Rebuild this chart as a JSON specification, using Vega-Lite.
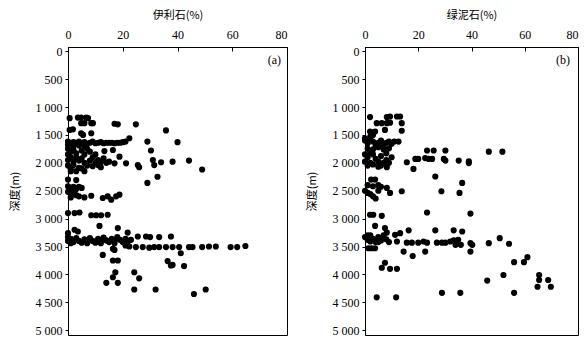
{
  "$schema": "https://vega.github.io/schema/vega-lite/v6.json",
  "padding": {"left": 8, "top": 8, "right": 4, "bottom": 5},
  "spacing": 17,
  "config": {
    "view": {"stroke": "black", "strokeWidth": 1},
    "axis": {
      "grid": false,
      "domainColor": "black",
      "tickColor": "black",
      "labelColor": "black",
      "titleColor": "black",
      "labelFont": "Liberation Serif",
      "labelFontSize": 12,
      "labelOverlap": false,
      "titleFont": "Noto Sans CJK SC",
      "titleFontSize": 11,
      "titleFontWeight": "normal"
    }
  },
  "datasets": {
    "illite": [
      {"v":0.6,"d":1200},{"v":3.6,"d":1190},{"v":4.8,"d":1190},{"v":6.7,"d":1190},{"v":7.3,"d":1200},
      {"v":4.8,"d":1290},{"v":6,"d":1290},{"v":8.5,"d":1290},{"v":9.1,"d":1290},{"v":17,"d":1300},{"v":18.2,"d":1310},{"v":24.8,"d":1310},
      {"v":0.6,"d":1410},{"v":1.8,"d":1400},{"v":4.8,"d":1470},{"v":5.5,"d":1500},{"v":8.5,"d":1470},{"v":35.8,"d":1420},{"v":22.4,"d":1560},
      {"v":0,"d":1620},{"v":1,"d":1650},{"v":2,"d":1630},{"v":3,"d":1660},{"v":4,"d":1620},{"v":5,"d":1650},{"v":6,"d":1630},{"v":7,"d":1660},{"v":8,"d":1640},{"v":9,"d":1620},{"v":10,"d":1650},{"v":11,"d":1640},{"v":12,"d":1630},{"v":13,"d":1650},{"v":14,"d":1640},{"v":15,"d":1640},{"v":16,"d":1640},{"v":17,"d":1650},{"v":18,"d":1640},{"v":19,"d":1640},{"v":20,"d":1630},{"v":21,"d":1620},
      {"v":0,"d":1680},{"v":2,"d":1700},{"v":4,"d":1690},{"v":6,"d":1700},
      {"v":29,"d":1620},{"v":40,"d":1630},{"v":30.3,"d":1780},{"v":13.3,"d":1790},{"v":16.4,"d":1770},
      {"v":0,"d":1750},{"v":1,"d":1800},{"v":0,"d":1850},{"v":2,"d":1770},{"v":3,"d":1830},{"v":1,"d":1900},{"v":0,"d":1950},{"v":2,"d":1980},{"v":0,"d":2050},{"v":1,"d":2100},{"v":3,"d":1900},{"v":4,"d":1960},{"v":2,"d":2040},{"v":4,"d":2090},{"v":5,"d":1780},{"v":6,"d":1850},{"v":5,"d":1920},{"v":6,"d":2000},{"v":7,"d":2050},{"v":5,"d":2100},{"v":8,"d":1800},{"v":9,"d":1900},{"v":8,"d":1960},{"v":10,"d":2000},{"v":9,"d":2060},{"v":7,"d":1750},{"v":11,"d":1950},{"v":12,"d":1990},{"v":13,"d":1920},{"v":14,"d":2000},{"v":11,"d":2040},{"v":12,"d":2080},{"v":3,"d":2150},{"v":1,"d":2150},{"v":6,"d":2150},{"v":10,"d":1850},{"v":15,"d":1980},{"v":17,"d":2010},{"v":18.8,"d":1890},
      {"v":21.2,"d":2010},{"v":25.5,"d":2040},{"v":26,"d":2080},{"v":31,"d":1950},{"v":31.5,"d":2040},{"v":34,"d":1990},{"v":38.2,"d":1980},{"v":44.2,"d":1960},{"v":49,"d":2120},
      {"v":0,"d":2300},{"v":3,"d":2310},{"v":32.7,"d":2250},{"v":29,"d":2360},
      {"v":0,"d":2420},{"v":1,"d":2450},{"v":2,"d":2430},{"v":3,"d":2470},{"v":4,"d":2430},{"v":5,"d":2450},{"v":0,"d":2520},{"v":1,"d":2560},{"v":2,"d":2540},{"v":3,"d":2580},{"v":4,"d":2600},{"v":6,"d":2620},{"v":1,"d":2620},{"v":8.5,"d":2590},{"v":12.7,"d":2630},{"v":14.5,"d":2600},{"v":15.8,"d":2660},{"v":17.6,"d":2600},{"v":18.8,"d":2570},
      {"v":0,"d":2900},{"v":2.4,"d":2900},{"v":4.2,"d":2890},{"v":8.5,"d":2940},{"v":10.3,"d":2940},{"v":12.1,"d":2940},{"v":14.5,"d":2930},
      {"v":11.5,"d":3130},{"v":2.4,"d":3200},{"v":3.6,"d":3230},{"v":18.2,"d":3170},{"v":0,"d":3260},{"v":21.8,"d":3250},
      {"v":0,"d":3330},{"v":0,"d":3400},{"v":1,"d":3360},{"v":2,"d":3420},{"v":3,"d":3350},{"v":4,"d":3400},{"v":5,"d":3430},{"v":6,"d":3370},{"v":7,"d":3410},{"v":8,"d":3350},{"v":9,"d":3400},{"v":10,"d":3430},{"v":11,"d":3360},{"v":12,"d":3400},{"v":13,"d":3340},{"v":14,"d":3390},{"v":15,"d":3420},{"v":16,"d":3360},{"v":17,"d":3400},{"v":18,"d":3330},{"v":19,"d":3380},{"v":20,"d":3420},{"v":21,"d":3360},{"v":22,"d":3400},{"v":23,"d":3380},{"v":1,"d":3440},{"v":7,"d":3440},{"v":12,"d":3440},{"v":17,"d":3440},
      {"v":25.5,"d":3320},{"v":28.5,"d":3320},{"v":30,"d":3330},{"v":33.3,"d":3330},{"v":37.6,"d":3320},
      {"v":21,"d":3480},{"v":22.4,"d":3500},{"v":24.8,"d":3510},{"v":27.3,"d":3510},{"v":29.7,"d":3520},{"v":31.5,"d":3510},{"v":33.3,"d":3510},{"v":35.8,"d":3510},{"v":38.2,"d":3510},{"v":40.6,"d":3510},{"v":44.2,"d":3510},{"v":45.5,"d":3510},{"v":49,"d":3510},{"v":51.5,"d":3500},{"v":54,"d":3500},{"v":59.4,"d":3510},{"v":61.8,"d":3510},{"v":64.8,"d":3490},
      {"v":12.7,"d":3650},{"v":16.4,"d":3540},{"v":17,"d":3560},{"v":16.4,"d":3750},{"v":18.2,"d":3750},{"v":41.2,"d":3620},{"v":36.4,"d":3760},{"v":37.6,"d":3840},{"v":38.2,"d":3830},{"v":42.4,"d":3850},{"v":17.3,"d":3960},{"v":16.4,"d":4050},{"v":14,"d":4150},{"v":18.2,"d":4150},{"v":24.2,"d":3960},{"v":26,"d":4070},{"v":24.2,"d":4270},{"v":32,"d":4270},{"v":46,"d":4350},{"v":50.3,"d":4270}
    ],
    "chlorite": [
      {"v":1.9,"d":1180},{"v":8.2,"d":1180},{"v":9.4,"d":1170},{"v":12,"d":1170},{"v":13.2,"d":1170},
      {"v":4.4,"d":1290},{"v":6.3,"d":1290},{"v":8.2,"d":1290},{"v":9.4,"d":1280},{"v":13.8,"d":1290},
      {"v":1.9,"d":1440},{"v":2.5,"d":1460},{"v":3.8,"d":1440},{"v":7.5,"d":1410},{"v":13.8,"d":1425},
      {"v":0,"d":1560},
      {"v":0,"d":1600},{"v":1,"d":1650},{"v":2,"d":1580},{"v":3,"d":1620},{"v":4,"d":1700},{"v":5,"d":1640},{"v":6,"d":1600},{"v":7,"d":1680},{"v":8,"d":1640},{"v":9,"d":1620},{"v":10,"d":1660},{"v":11,"d":1620},{"v":12.6,"d":1620},{"v":1,"d":1750},{"v":3,"d":1760},{"v":5,"d":1720},{"v":7,"d":1760},{"v":9,"d":1740},{"v":2,"d":1530},{"v":3,"d":1500},
      {"v":0,"d":1850},{"v":1,"d":1900},{"v":0,"d":1980},{"v":2,"d":2000},{"v":1,"d":2050},{"v":3,"d":1850},{"v":4,"d":1930},{"v":3,"d":2030},{"v":5,"d":1980},{"v":6,"d":1880},{"v":7,"d":2000},{"v":6,"d":2050},{"v":8,"d":1950},{"v":9,"d":2000},{"v":10,"d":1900},{"v":5,"d":2070},{"v":2,"d":1820},{"v":8,"d":1830},
      {"v":8.2,"d":2080},{"v":15.7,"d":1990},{"v":18.2,"d":2110},{"v":18.9,"d":1930},{"v":20,"d":1930},{"v":22.6,"d":1915},{"v":23.3,"d":1780},{"v":25.8,"d":1780},{"v":23.9,"d":1930},{"v":25.2,"d":1930},{"v":30.2,"d":1780},{"v":29.6,"d":1930},{"v":30.2,"d":1960},{"v":35.2,"d":1960},{"v":39,"d":1975},{"v":39,"d":2005},{"v":46.5,"d":1800},{"v":51.6,"d":1800},
      {"v":26.4,"d":2245},{"v":36.5,"d":2360},
      {"v":2.3,"d":2300},{"v":3.8,"d":2300},{"v":1,"d":2400},{"v":3,"d":2420},{"v":5,"d":2400},{"v":0,"d":2500},{"v":1,"d":2540},{"v":2,"d":2560},{"v":3,"d":2600},{"v":4,"d":2640},{"v":5,"d":2500},{"v":8.2,"d":2450},{"v":9.4,"d":2540},{"v":13.8,"d":2510},{"v":28.7,"d":2510},{"v":35.5,"d":2540},{"v":6,"d":2430},
      {"v":1.9,"d":2930},{"v":3.1,"d":2930},{"v":6.3,"d":2950},{"v":23.3,"d":2890},{"v":39.6,"d":2910},
      {"v":3.8,"d":3130},{"v":7.5,"d":3170},{"v":8.2,"d":3250},{"v":16.4,"d":3210},{"v":26.4,"d":3210},{"v":33.3,"d":3210},{"v":36.5,"d":3230},
      {"v":0,"d":3330},{"v":1,"d":3380},{"v":2,"d":3300},{"v":3,"d":3360},{"v":4,"d":3420},{"v":5,"d":3330},{"v":6,"d":3390},{"v":7,"d":3300},{"v":8,"d":3370},{"v":9,"d":3420},{"v":2,"d":3410},{"v":5,"d":3420},{"v":1,"d":3300},
      {"v":11.3,"d":3290},{"v":13.2,"d":3260},{"v":12,"d":3410},{"v":15.7,"d":3430},{"v":17.6,"d":3430},{"v":20,"d":3430},{"v":22,"d":3410},{"v":23.3,"d":3430},{"v":27,"d":3430},{"v":28.9,"d":3430},{"v":30.2,"d":3430},{"v":32,"d":3410},{"v":33.3,"d":3390},{"v":35,"d":3380},{"v":34,"d":3470},{"v":36,"d":3470},{"v":39.6,"d":3440},{"v":40.3,"d":3470},{"v":46.5,"d":3440},{"v":50.6,"d":3350},{"v":54.1,"d":3450},
      {"v":1.3,"d":3530},{"v":2.5,"d":3530},{"v":3.8,"d":3530},{"v":14.5,"d":3590},{"v":17.9,"d":3670},{"v":22.6,"d":3590},{"v":39.6,"d":3590},
      {"v":7.5,"d":3790},{"v":6.3,"d":3880},{"v":9.4,"d":3900},{"v":12,"d":3900},{"v":56,"d":3780},{"v":59.7,"d":3780},{"v":61,"d":3690},{"v":45.9,"d":4110},{"v":52,"d":4010},{"v":56,"d":4330},{"v":65.4,"d":4010},{"v":65.4,"d":4100},{"v":64.8,"d":4220},{"v":68.8,"d":4100},{"v":69.8,"d":4220},{"v":28.9,"d":4330},{"v":35.8,"d":4330},{"v":4.4,"d":4410},{"v":11.7,"d":4410}
    ],
    "tag_a": [{"t":"(a)","v":77.8,"d":150}],
    "tag_b": [{"t":"(b)","v":77,"d":150}]
  },
  "hconcat": [
    {
      "width": 219,
      "height": 288,
      "layer": [
        {
          "data": {"name": "illite"},
          "mark": {"type": "circle", "size": 38, "color": "black", "opacity": 1},
          "encoding": {
            "x": {"field": "v", "type": "quantitative", "scale": {"domain": [0, 80], "nice": false, "zero": false},
              "axis": {"orient": "top", "title": "伊利石(%)", "tickCount": 4, "tickSize": -4, "labelPadding": 10, "titlePadding": 8,
                "labelFont": "Liberation Serif", "labelFontSize": 12,
                "labelAlign": {"condition": {"test": "datum.value == 80", "value": "right"}, "value": "center"}}},
            "y": {"field": "d", "type": "quantitative", "scale": {"domain": [-75, 5085], "reverse": true, "nice": false, "zero": false},
              "axis": {"orient": "left", "title": "深度(m)", "tickCount": 11, "tickSize": 3, "labelPadding": 3, "titlePadding": 15,
                "labelFont": "Liberation Serif", "labelFontSize": 12, "labelOverlap": false,
                "labelExpr": "datum.value >= 1000 ? replace(format(datum.value, ','), ',', ' ') : format(datum.value, 'd')"}}
          }
        },
        {
          "data": {"name": "tag_a"},
          "mark": {"type": "text", "align": "right", "baseline": "middle", "font": "Liberation Serif", "fontSize": 12, "color": "black"},
          "encoding": {
            "x": {"field": "v", "type": "quantitative"},
            "y": {"field": "d", "type": "quantitative"},
            "text": {"field": "t"}
          }
        }
      ]
    },
    {
      "width": 213,
      "height": 288,
      "layer": [
        {
          "data": {"name": "chlorite"},
          "mark": {"type": "circle", "size": 38, "color": "black", "opacity": 1},
          "encoding": {
            "x": {"field": "v", "type": "quantitative", "scale": {"domain": [0, 80], "nice": false, "zero": false},
              "axis": {"orient": "top", "title": "绿泥石(%)", "tickCount": 4, "tickSize": -4, "labelPadding": 10, "titlePadding": 8,
                "labelFont": "Liberation Serif", "labelFontSize": 12,
                "labelAlign": {"condition": {"test": "datum.value == 80", "value": "right"}, "value": "center"}}},
            "y": {"field": "d", "type": "quantitative", "scale": {"domain": [-75, 5085], "reverse": true, "nice": false, "zero": false},
              "axis": {"orient": "left", "title": "深度(m)", "tickCount": 11, "tickSize": 3, "labelPadding": 3, "titlePadding": 15,
                "labelFont": "Liberation Serif", "labelFontSize": 12, "labelOverlap": false,
                "labelExpr": "datum.value >= 1000 ? replace(format(datum.value, ','), ',', ' ') : format(datum.value, 'd')"}}
          }
        },
        {
          "data": {"name": "tag_b"},
          "mark": {"type": "text", "align": "right", "baseline": "middle", "font": "Liberation Serif", "fontSize": 12, "color": "black"},
          "encoding": {
            "x": {"field": "v", "type": "quantitative"},
            "y": {"field": "d", "type": "quantitative"},
            "text": {"field": "t"}
          }
        }
      ]
    }
  ]
}
